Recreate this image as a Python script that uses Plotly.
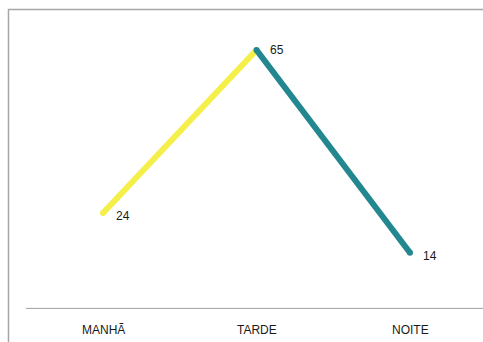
import plotly.graph_objects as go

# Períodos do dia e valores
periodos = ["MANHÃ", "TARDE", "NOITE"]
valores = [24, 65, 14]
cores_segmentos = ["#F5EF4A", "#23878F"]

W, H = 483, 342
FONTE = dict(family="Liberation Sans, Arial", size=12, color="#1a1a1a")

fig = go.Figure()

# Cada segmento da linha com sua própria cor
for i, cor in enumerate(cores_segmentos):
    fig.add_trace(go.Scatter(
        x=periodos[i:i + 2], y=valores[i:i + 2],
        mode="lines+markers",
        line=dict(color=cor, width=6),
        marker=dict(color=cor, size=6),
        hoverinfo="skip", showlegend=False,
    ))

# Rótulos de valor à direita de cada ponto
for p, v, dy in zip(periodos, valores, [-3, 0, -3]):
    fig.add_annotation(x=p, y=v, xref="x", yref="y", text=str(v),
                       showarrow=False, xshift=20, yshift=dy, font=FONTE)

# Moldura do gráfico e linha do eixo horizontal
fig.add_shape(type="rect", xref="paper", yref="paper",
              x0=8.5 / W, x1=1.05, y0=-0.05, y1=1 - 9.5 / H,
              line=dict(color="#A6A6A6", width=1.5), layer="below")
fig.add_shape(type="line", xref="paper", yref="y",
              x0=26 / W, x1=1.0, y0=0, y1=0,
              line=dict(color="#A0A0A0", width=1), layer="below")

fig.update_layout(
    width=W, height=H,
    margin=dict(l=0, r=0, t=0, b=0),
    paper_bgcolor="white", plot_bgcolor="white",
    xaxis=dict(
        type="category", range=[-103 / 153.5, (W - 103) / 153.5],
        showgrid=False, zeroline=False, showline=False, ticks="",
        showticklabels=False,
    ),
    yaxis=dict(
        range=[(308.4 - H) / 3.976, 308.4 / 3.976],
        showgrid=False, zeroline=False, showline=False,
        showticklabels=False,
    ),
)

# Rótulos das categorias abaixo do eixo
for p in periodos:
    fig.add_annotation(x=p, y=0, xref="x", yref="y", text=p,
                       showarrow=False, yshift=-22, font=FONTE)

fig.write_html("out.html")
